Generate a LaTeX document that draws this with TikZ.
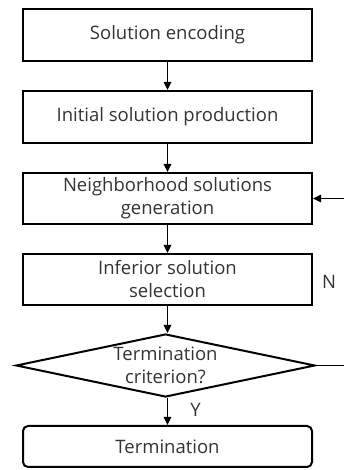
\documentclass[tikz,border=0pt]{standalone}
\usepackage{fontspec}
\setmainfont{Open Sans}
\usepackage{xcolor}
\definecolor{textgray}{rgb}{0.2, 0.2, 0.2}
\usepackage{tikz}
\usetikzlibrary{arrows.meta,positioning,shapes.geometric}
\tikzset{
  >={Triangle[length=8pt,width=7.5pt]},
  stepbox/.style={rectangle,draw,line width=2pt,minimum width=289pt,minimum height=52pt,text=textgray,align=center,inner sep=2pt},
  decision/.style={diamond,draw,line width=2pt,aspect=4.8,minimum width=299pt,minimum height=63pt,inner sep=0pt,text=textgray,align=center},
  endbox/.style={stepbox,rounded corners=5pt,minimum height=41pt},
  flow/.style={->,line width=1.3pt},
  tag/.style={text=textgray}
}

\begin{document}
\begin{tikzpicture}[x=1pt,y=1pt,node distance=28pt,font=\fontsize{18.5}{23}\selectfont]
  \useasboundingbox (0,0) rectangle (343,470);
  \node[stepbox] (encode) at (167.5,435) {Solution encoding};
  \node[stepbox,below=of encode] (init) {Initial solution production};
  \node[stepbox,below=of init,minimum height=51pt] (neigh) {Neighborhood solutions\\generation};
  \node[stepbox,below=of neigh,minimum height=51pt] (select) {Inferior solution\\selection};
  \node[decision,below=27pt of select,xshift=-2pt] (crit) {Termination\\criterion?};
  \node[endbox,below=27pt of crit,xshift=2pt] (term) {Termination};
  \coordinate (back) at (356,0);

  \draw[flow] (encode) -- (init);
  \draw[flow] (init) -- (neigh);
  \draw[flow] (neigh) -- (select);
  \draw[flow] (select.south) -- (select.south |- crit.north);
  \draw[flow] (select.south |- crit.south) -- node[tag,right=19pt,pos=0.45] {Y} (term.north);
  \draw[flow] (crit.east) -- (crit.east -| back)
    -- node[tag,left=16pt] {N} (neigh.east -| back) -- (neigh.east);
\end{tikzpicture}
\end{document}
